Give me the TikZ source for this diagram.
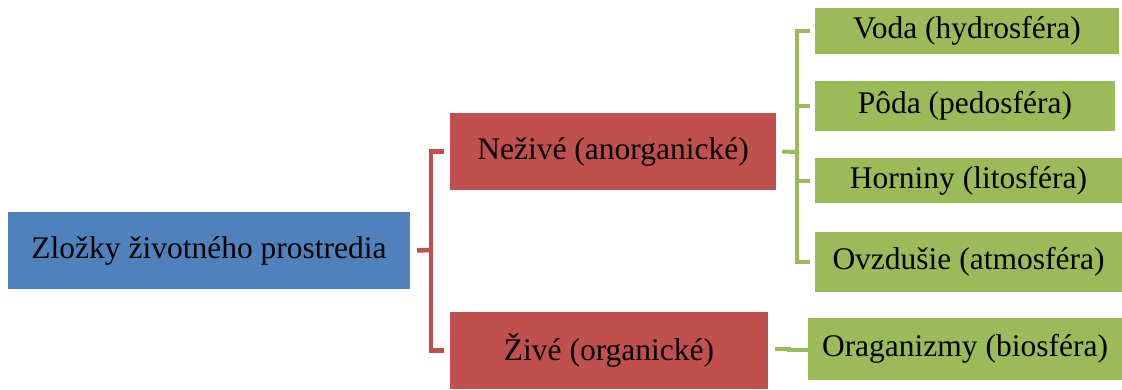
\documentclass[tikz,border=0pt]{standalone}
\usepackage{fontspec}
\setmainfont{Liberation Serif}
\definecolor{bxblue}{HTML}{4F81BD}
\definecolor{bxred}{HTML}{C0504D}
\definecolor{bxgreen}{HTML}{9BBB59}
\begin{document}
\begin{tikzpicture}[x=1pt,y=-1pt,
  box/.style={rectangle,inner sep=0pt,outer sep=0pt,font=\fontsize{31.5}{36}\selectfont,text=black},
  bluebox/.style={box,fill=bxblue},
  redbox/.style={box,fill=bxred},
  greenbox/.style={box,fill=bxgreen},
  redline/.style={draw=bxred,line width=4.5pt},
  greenline/.style={draw=bxgreen,line width=4pt}]
\useasboundingbox (0,0) rectangle (1122,389);
% boxes
\node[bluebox,minimum width=402pt,minimum height=77pt] (root) at (209,250.5) {Zložky životného prostredia};
\node[redbox,minimum width=326pt,minimum height=77pt] (nez) at (613,151.5) {Neživé (anorganické)};
\node[redbox,minimum width=318pt,minimum height=77pt] (ziv) at (609,350.5) {Živé (organické)};
\node[greenbox,minimum width=304pt,minimum height=46pt] (voda) at (967,31) {Voda (hydrosféra)};
\node[greenbox,minimum width=300pt,minimum height=50pt] (poda) at (965,106) {Pôda (pedosféra)};
\node[greenbox,minimum width=307pt,minimum height=45pt] (horn) at (968.5,180.5) {Horniny (litosféra)};
\node[greenbox,minimum width=307pt,minimum height=60pt] (ovzd) at (968.5,262) {Ovzdušie (atmosféra)};
\node[greenbox,minimum width=314pt,minimum height=62pt] (orga) at (965,349) {Oraganizmy (biosféra)};
% junction coordinates
\coordinate (rj) at (431,250);
\coordinate (gj) at (797,152);
\coordinate (oj) at (789,350);
% red bracket
\draw[redline] ([xshift=7pt]root.east) -- (rj);
\draw[redline] ([xshift=-6pt]nez.west) -| (rj) |- ([xshift=-6pt]ziv.west);
% green bracket
\draw[greenline] ([xshift=6pt]nez.east) -- (gj);
\draw[greenline] ([xshift=-5pt]voda.west) -| (gj) |- ([xshift=-5pt]ovzd.west);
\draw[greenline] (gj |- poda.west) -- ([xshift=-5pt]poda.west);
\draw[greenline] (gj |- horn.west) -- ([xshift=-5pt]horn.west);
% organizmy connector
\draw[greenline] ([xshift=7pt,yshift=1.5pt]ziv.east) -| (oj) |- ([xshift=0pt,yshift=-1pt]orga.west);
\end{tikzpicture}
\end{document}
